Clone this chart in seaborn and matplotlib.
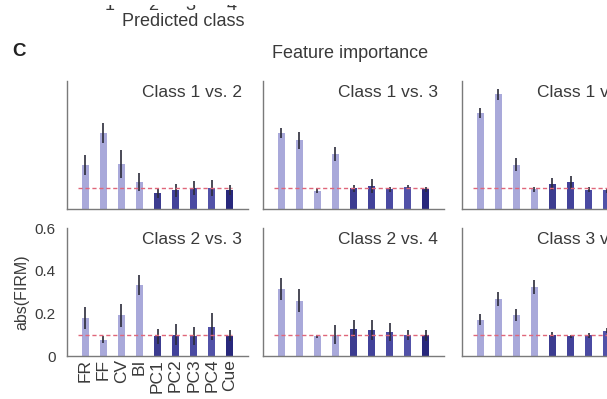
import numpy as np
import pandas as pd
import matplotlib
matplotlib.use("Agg")
import matplotlib.pyplot as plt
from matplotlib.patches import Rectangle
import seaborn as sns

# ---------------- data ----------------
features = ["FR", "FF", "CV", "BI", "PC1", "PC2", "PC3", "PC4", "Cue"]
panel_titles = ["Class 1 vs. 2", "Class 1 vs. 3", "Class 1 vs. 4",
                "Class 2 vs. 3", "Class 2 vs. 4", "Class 3 vs. 4"]

c12_val = [0.206, 0.357, 0.211, 0.127, 0.075, 0.087, 0.098, 0.098, 0.090]
c12_err = [0.048, 0.048, 0.064, 0.043, 0.023, 0.032, 0.032, 0.037, 0.024]
c13_val = [0.355, 0.323, 0.086, 0.258, 0.097, 0.108, 0.092, 0.102, 0.092]
c13_err = [0.023, 0.040, 0.011, 0.034, 0.015, 0.031, 0.013, 0.010, 0.013]
c14_val = [0.449, 0.537, 0.208, 0.092, 0.118, 0.126, 0.091, 0.088, 0.090]
c14_err = [0.023, 0.025, 0.030, 0.011, 0.028, 0.031, 0.012, 0.012, 0.012]
c23_val = [0.180, 0.076, 0.190, 0.334, 0.092, 0.100, 0.095, 0.137, 0.095]
c23_err = [0.052, 0.016, 0.055, 0.048, 0.035, 0.048, 0.042, 0.063, 0.026]
c24_val = [0.314, 0.259, 0.092, 0.100, 0.127, 0.121, 0.113, 0.100, 0.097]
c24_err = [0.051, 0.055, 0.008, 0.043, 0.040, 0.046, 0.043, 0.024, 0.027]
c34_val = [0.171, 0.267, 0.192, 0.322, 0.100, 0.092, 0.097, 0.119, 0.100]
c34_err = [0.024, 0.031, 0.027, 0.032, 0.011, 0.008, 0.011, 0.012, 0.010]

panel_vals = [c12_val, c13_val, c14_val, c23_val, c24_val, c34_val]
panel_errs = [c12_err, c13_err, c14_err, c23_err, c24_err, c34_err]

chance_level = 0.1
y_ticks = [0, 0.1, 0.2, 0.3, 0.4, 0.5, 0.6]
y_tick_labels = ["0", "", "0.2", "", "0.4", "", "0.6"]
top_digits = ["1", "2", "3", "4"]

# ---------------- style ----------------
sns.set_theme(style="white")
plt.rcParams["font.family"] = ["Liberation Sans", "DejaVu Sans"]

light = "#a9a9da"
palette = [light, light, light, light, "#3c3c90", "#42429a", "#4a4aa2", "#5252a8", "#28287c"]

W, H = 607, 399
fig = plt.figure(figsize=(W / 100, H / 100), dpi=100)

col_left = [67, 263, 462]
ax_w = 181
row_top = [81, 228]
ax_h = 128

spine_col = "#7a7a7a"
text_col = "#3a3a3a"

for i, (title, vals, errs) in enumerate(zip(panel_titles, panel_vals, panel_errs)):
    r, c = divmod(i, 3)
    left = col_left[c] / W
    bottom = 1 - (row_top[r] + ax_h) / H
    ax = fig.add_axes([left, bottom, ax_w / W, ax_h / H])
    df = pd.DataFrame({"feature": features, "value": vals})
    sns.barplot(data=df, x="feature", y="value", hue="feature", palette=palette,
                order=features, hue_order=features, width=0.38, legend=False,
                saturation=1, ax=ax, edgecolor="none")
    xs = np.arange(len(features))
    ax.errorbar(xs, vals, yerr=errs, fmt="none", ecolor="#2b2b3a", elinewidth=1.2,
                capsize=0, zorder=3)
    ax.plot([-0.4, 8.1], [chance_level, chance_level], color="#e0667a",
            linestyle=(0, (3, 2)), linewidth=1.0, zorder=4)
    ax.set_xlim(-1, 9)
    ax.set_ylim(0, 0.6)
    ax.set_yticks(y_ticks)
    ax.set_xticks(xs)
    for s in ["top", "right"]:
        ax.spines[s].set_visible(False)
    for s in ["left", "bottom"]:
        ax.spines[s].set_color(spine_col)
        ax.spines[s].set_linewidth(1.0)
    ax.tick_params(axis="both", direction="in", length=3, width=0.8, color="#555555")
    ax.set_xlabel("")
    ax.set_ylabel("")
    ax.text(0.967, 0.91, title, transform=ax.transAxes, ha="right", va="center",
            fontsize=12.5, color=text_col)
    if r == 1 and c == 0:
        ax.set_yticklabels(y_tick_labels, fontsize=11, color=text_col)
        ax.tick_params(axis="y", pad=8)
        ax.set_xticklabels(features, rotation=90, fontsize=12.5, color=text_col)
        ax.tick_params(axis="x", pad=2)
        ax.set_ylabel("abs(FIRM)", fontsize=11.5, color=text_col, labelpad=4)
    else:
        ax.set_yticklabels([])
        ax.set_xticklabels([])

# ---------------- figure texts ----------------
fig.text(19 / W, 1 - 52 / H, "C", fontsize=13.5, fontweight="bold",
         ha="center", va="center", color="#222222")
fig.text(183 / W, 1 - 21 / H, "Predicted class", fontsize=13,
         ha="center", va="center", color=text_col)
for xpix, d in zip([110, 153, 190, 232], top_digits):
    fig.text(xpix / W, 1 - 10 / H, d, fontsize=13, ha="center", va="baseline",
             color=text_col, zorder=1)
# the panel above is cropped away: only the feet of its tick digits remain
fig.add_artist(Rectangle((0, 1 - 5 / H), 1, 5 / H, transform=fig.transFigure,
                         facecolor="white", edgecolor="none", zorder=10))
fig.text(350 / W, 1 - 53 / H, "Feature importance", fontsize=13,
         ha="center", va="center", color=text_col)

fig.savefig("out.png", dpi=100, facecolor="white")
